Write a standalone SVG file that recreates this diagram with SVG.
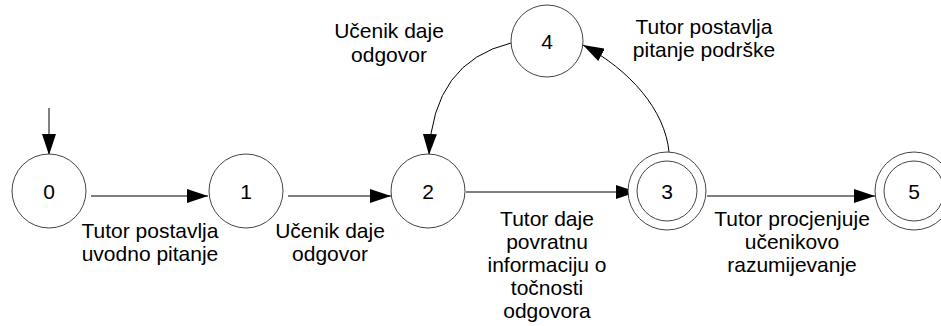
<svg xmlns="http://www.w3.org/2000/svg" width="941" height="326" viewBox="0 0 941 326">
<style>
.st{fill:#fff;stroke:#444;stroke-width:1}
.e{fill:none;stroke:#000;stroke-width:1;marker-end:url(#ah)}
text{font-family:"Liberation Sans",Arial,sans-serif;font-size:21px;fill:#000;text-anchor:middle}
</style>
<defs>
<marker id="ah" markerUnits="userSpaceOnUse" markerWidth="21" markerHeight="14" viewBox="0 0 21 14" refX="21" refY="7" orient="auto">
<path d="M0,0 L21,7 L0,14 z" fill="#000"/>
</marker>
</defs>
<rect width="941" height="326" fill="#fff"/>
<g id="edges">
<path class="e" d="M49,108 L49,155"/>
<path class="e" d="M91,196 L208,196"/>
<path class="e" d="M288,196 L391,196"/>
<path class="e" d="M466,192 L637,192"/>
<path class="e" d="M707,196 L875,196"/>
<path class="e" d="M511,43 Q433,62 429,155"/>
<path class="e" d="M669,152 C665,110 630,70 583,45"/>
</g>
<g id="edge-labels">
<text x="150" y="238">Tutor postavlja</text>
<text x="150" y="261">uvodno pitanje</text>
<text x="330" y="238">Učenik daje</text>
<text x="330" y="261">odgovor</text>
<text x="547" y="226">Tutor daje</text>
<text x="547" y="249">povratnu</text>
<text x="547" y="272">informaciju o</text>
<text x="547" y="295">točnosti</text>
<text x="547" y="318">odgovora</text>
<text x="792" y="226">Tutor procjenjuje</text>
<text x="792" y="249">učenikovo</text>
<text x="792" y="272">razumijevanje</text>
<text x="389" y="38">Učenik daje</text>
<text x="389" y="62">odgovor</text>
<text x="704" y="34">Tutor postavlja</text>
<text x="704" y="57">pitanje podrške</text>
</g>
<g id="node0"><circle class="st" cx="49" cy="191" r="37"/><text x="49" y="199">0</text></g>
<g id="node1"><circle class="st" cx="246" cy="191" r="37"/><text x="246" y="199">1</text></g>
<g id="node2"><circle class="st" cx="428" cy="191" r="37"/><text x="428" y="199">2</text></g>
<g id="node3"><circle class="st" cx="667" cy="191" r="39"/><circle class="st" cx="667" cy="191" r="30"/><text x="667" y="199">3</text></g>
<g id="node4"><circle class="st" cx="547" cy="41" r="36"/><text x="547" y="49">4</text></g>
<g id="node5"><circle class="st" cx="914" cy="191" r="39"/><circle class="st" cx="914" cy="191" r="30"/><text x="914" y="199">5</text></g>
</svg>
